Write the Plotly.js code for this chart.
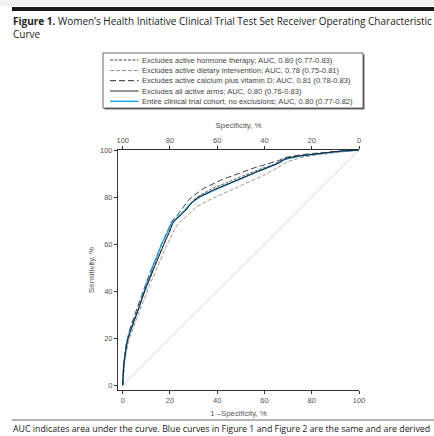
<!DOCTYPE html>
<html><head><meta charset="utf-8">
<script src="https://cdn.plot.ly/plotly-3.0.1.min.js"></script>
<style>html,body{margin:0;padding:0;background:#fff;overflow:hidden}#c{width:434px;height:436px}</style>
</head><body><div id="c"></div>
<script>
// ---- data (1 - specificity %, sensitivity %) ----
const seriesNames = [
  "Excludes active hormone therapy; AUC, 0.80 (0.77-0.83)",
  "Excludes active dietary intervention; AUC, 0.78 (0.75-0.81)",
  "Excludes active calcium plus vitamin D; AUC, 0.81 (0.78-0.83)",
  "Excludes all active arms; AUC, 0.80 (0.76-0.83)",
  "Entire clinical trial cohort, no exclusions; AUC, 0.80 (0.77-0.82)"
];
const hormoneX = [0,0.2,0.4,0.7,1.0,1.4,1.9,2.4,3.0,3.7,4.4,5.2,6.0,6.8,7.7,8.6,9.5,10.5,11.4,12.4,13.4,14.4,15.4,16.5,17.6,18.8,20.0,21.4,22.8,24.3,25.8,27.4,29.0,30.8,32.6,34.6,36.8,39.0,41.4,43.8,46.2,48.7,51.2,53.7,56.2,58.8,61.3,63.8,66.3,68.8,72.0,76.0,80.0,84.0,88.0,92.0,96.0,100];
const hormoneY = [0,4,7,10.5,13.5,16,18.5,20.5,23,25,26.5,28.5,31,33.5,35.5,38,40.5,43,45,47.5,51,53,55.5,58,60.5,63,66,69.5,71,72.5,74,75.5,77.5,79.5,80.7,81.8,83,84.2,85,86.2,87.1,88.1,89,90.1,91.1,92.1,93,93.8,95.2,96.4,97,97.6,98.2,98.6,99,99.4,99.7,100];
const dietaryX = [0,0.2,0.5,0.8,1.1,1.6,2.1,2.7,3.4,4.1,4.9,5.7,6.5,7.3,8.2,9.1,10.0,10.9,11.9,12.9,13.9,14.9,15.9,17.0,18.2,19.4,20.6,22.0,23.4,24.9,26.4,28.0,29.7,31.5,33.4,35.4,37.6,39.8,42.2,44.6,47.0,49.5,52.0,54.5,57.0,59.5,62.0,64.5,67.0,69.5,72.5,76.0,80.0,84.0,88.0,92.0,96.0,100];
const dietaryY = [0,3.5,6.5,9.5,12.5,15,17.5,19.5,21.5,23.5,25.5,27.5,29.5,32,34.5,36.5,39,41.5,44,46,48.5,51,53.5,56,58.5,61,63.5,66.5,68.5,70,71.5,73,74.5,76,77.2,78.2,79.2,80.2,81.2,82.3,83.3,84.5,85.6,86.8,88,89.2,90.5,91.8,93.3,95,96,96.9,97.6,98.2,98.7,99.1,99.6,100];
const calciumX = [0,0.1,0.3,0.6,0.9,1.3,1.8,2.3,2.9,3.5,4.2,5.0,5.8,6.6,7.4,8.3,9.2,10.1,11.0,12.0,13.0,14.0,15.0,16.0,17.1,18.2,19.4,20.6,21.9,23.3,24.7,26.2,27.7,29.3,31.0,32.8,34.7,36.8,39.0,41.3,43.6,46.0,48.4,50.9,53.4,55.9,58.4,60.9,63.4,66.0,68.5,71.5,75.0,79.0,83.0,87.0,91.0,95.0,100];
const calciumY = [0,4.5,8,11,14,16.5,19,21.5,23.5,25.5,27.5,29.5,32,34.5,37,39,41.5,44,46.5,49,51.5,54,56.5,59,61.5,64,66.5,69.5,71,72.5,74.5,76.5,78.5,80,81.5,82.7,83.9,85,86.1,87.1,88,88.9,89.8,90.7,91.6,92.5,93.2,93.9,94.6,95.5,96.8,97.4,97.9,98.4,98.8,99.2,99.5,99.8,100];
const allArmsX = [0,0,0.3,0.6,1.0,1.4,1.8,2.3,2.9,3.6,4.3,5.0,5.8,6.6,7.5,8.4,9.3,10.2,11.2,12.2,13.2,14.2,15.2,16.2,17.3,18.5,19.7,21.0,22.4,23.8,25.2,26.8,28.4,30.1,31.9,33.8,35.9,38.1,40.4,42.7,45.1,47.5,50.0,52.5,55.0,57.5,60.0,62.5,65.0,67.5,70.0,73.5,77.0,81.0,85.0,89.0,93.0,97.0,100];
const allArmsY = [0,3,6.5,10,13,15.5,18,20,22,24,26,28,30,32.5,35,37.5,40,42.5,45,47,50,52.5,55,57.5,60,62.5,65,68.5,70.5,71.5,73,74.5,76.5,78.5,79.8,80.8,81.9,82.9,83.9,84.9,85.9,86.9,87.9,89,90,91,92,93,94,95.6,96.6,97.3,97.8,98.3,98.8,99.2,99.6,99.9,100];
const entireX = [0,0,0.3,0.5,0.8,1.2,1.5,2.0,2.6,3.2,4.0,4.6,5.3,6.1,7.0,7.6,8.4,9.3,10.1,11.0,11.8,12.7,13.6,14.6,15.5,16.4,17.5,18.6,19.8,21.0,22.4,23.7,25.0,26.5,28.0,29.6,31.2,33.0,35.0,37.2,39.5,41.8,44.2,46.6,49.0,51.5,54.0,56.5,59.0,61.5,64.0,66.5,69.0,72.0,75.5,79.0,83.0,87.0,91.0,95.0,98.0,100];
const entireY = [0,3,6,9,12,15,17,19.5,21.5,23.5,25,27,28.5,31,33.5,36,38,40.5,43.5,45,47,50.5,52.5,55,57.5,60,62,64.5,67,69.5,70.5,72,73,74.5,76.5,78,79,80.3,81.2,82.3,83.3,84.2,85.3,86.3,87.3,88.3,89.5,90.6,91.6,92.5,93.4,94.6,96.2,96.9,97.5,98.0,98.5,98.9,99.3,99.6,99.8,100];
const refX = [0,100];
const refY = [0,100];
const tickVals = [0,20,40,60,80,100];
const specTickVals = [100,80,60,40,20,0];

// ---- styles ----
const styles = [
  {color:'#333', dash:'3px,1.5px', width:0.8},
  {color:'#8c8c8c', dash:'4px,2px', width:0.9},
  {color:'#111', dash:'6px,3px', width:0.8},
  {color:'#111', dash:'solid', width:0.9},
  {color:'#2a9fe0', dash:'solid', width:1.4}
];
const blueLegend = '#1ea7e6';

const W=434, H=436;
const px = x => x/W, py = y => 1 - y/H;

const traces = [
  {x:refX, y:refY, mode:'lines', line:{color:'#c4c4c4', width:0.8}, hoverinfo:'skip', showlegend:false},
  {x:hormoneX, y:hormoneY, name:seriesNames[0], mode:'lines', line:styles[0], showlegend:false},
  {x:dietaryX, y:dietaryY, name:seriesNames[1], mode:'lines', line:styles[1], showlegend:false},
  {x:calciumX, y:calciumY, name:seriesNames[2], mode:'lines', line:styles[2], showlegend:false},
  {x:entireX, y:entireY, name:seriesNames[4], mode:'lines', line:styles[4], showlegend:false},
  {x:allArmsX, y:allArmsY, name:seriesNames[3], mode:'lines', line:styles[3], showlegend:false},
  // invisible trace to activate top specificity axis
  {x:[], y:[], xaxis:'x2', yaxis:'y', mode:'lines', showlegend:false, hoverinfo:'skip'}
];

const smallFam = 'Liberation Sans, Arial, sans-serif';
const tickFont = {family:smallFam, size:7.5, color:'#555'};
const axTitleFont = {family:smallFam, size:7.8, color:'#555'};
const axCommon = {
  showgrid:false, zeroline:false, showline:true, linecolor:'#333', linewidth:1,
  ticks:'outside', ticklen:3, tickwidth:1, tickcolor:'#333', tickfont:tickFont, fixedrange:true
};

// legend drawn as shapes + annotations
const legRows = [60, 70.5, 80.7, 91, 101.3];
const shapes = [
  {type:'rect', xref:'paper', yref:'paper', x0:px(0), x1:px(434), y0:py(0), y1:py(6), fillcolor:'#f1f1f1', line:{width:0}},
  {type:'rect', xref:'paper', yref:'paper', x0:px(12), x1:px(434), y0:py(7), y1:py(11), fillcolor:'#1a1a1a', line:{width:0}},
  {type:'line', xref:'paper', yref:'paper', x0:px(12), x1:px(434), y0:py(420), y1:py(420), line:{color:'#9a9a9a', width:1.5}},
  {type:'rect', xref:'paper', yref:'paper', x0:px(104.5), x1:px(364.5), y0:py(54.5), y1:py(109.5), fillcolor:'#6a6a6a', line:{width:0}},
  {type:'rect', xref:'paper', yref:'paper', x0:px(103), x1:px(363), y0:py(53), y1:py(108), fillcolor:'#fff', line:{color:'#444', width:0.8}}
];
const legOrder = [0,1,2,3,4];
legOrder.forEach((k,i)=>{
  shapes.push({type:'line', xref:'paper', yref:'paper', x0:px(110), x1:px(138.5), y0:py(legRows[i]), y1:py(legRows[i]),
    line:{color: k===4 ? blueLegend : styles[k].color, width: k===4 ? 1.5 : 0.9, dash:styles[k].dash}});
});

const capFam = 'Open Sans, sans-serif';
const annotations = [
  {xref:'paper', yref:'paper', x:px(11), y:py(11.5), xanchor:'left', yanchor:'top', showarrow:false, align:'left',
   text:'<b>Figure 1.</b> Women\u2019s Health Initiative Clinical Trial Test Set Receiver Operating Characteristic<br>Curve',
   font:{family:capFam, size:10, color:'#222'}},
  {xref:'paper', yref:'paper', x:px(11), y:py(429), xanchor:'left', yanchor:'middle', showarrow:false, align:'left',
   text:'AUC indicates area under the curve. Blue curves in Figure 1 and Figure 2 are the same and are derived',
   font:{family:capFam, size:8.8, color:'#222'}}
];
legOrder.forEach((k,i)=>{
  annotations.push({xref:'paper', yref:'paper', x:px(140), y:py(legRows[i]), xanchor:'left', yanchor:'middle', showarrow:false,
    text:seriesNames[k], font:{family:smallFam, size:7.6, color:'#444'}});
});

const layout = {
  width:W, height:H, margin:{l:0,r:0,t:0,b:0}, paper_bgcolor:'#fff', plot_bgcolor:'#fff', showlegend:false,
  xaxis: Object.assign({}, axCommon, {domain:[px(118), px(359)], range:[-2,100], tickvals:tickVals, anchor:'y',
    title:{text:'1 \u2013Specificity, %', font:axTitleFont, standoff:6}}),
  xaxis2: Object.assign({}, axCommon, {domain:[px(118), px(359)], range:[102,0], tickvals:specTickVals, anchor:'y', overlaying:'x', side:'top',
    title:{text:'Specificity, %', font:axTitleFont, standoff:6}}),
  yaxis: Object.assign({}, axCommon, {domain:[py(390), py(150)], range:[-2,100], tickvals:tickVals, anchor:'x',
    title:{text:'Sensitivity, %', font:axTitleFont, standoff:4}}),
  shapes:shapes, annotations:annotations
};

Plotly.newPlot('c', traces, layout, {staticPlot:true, displayModeBar:false});
</script>
</body></html>
